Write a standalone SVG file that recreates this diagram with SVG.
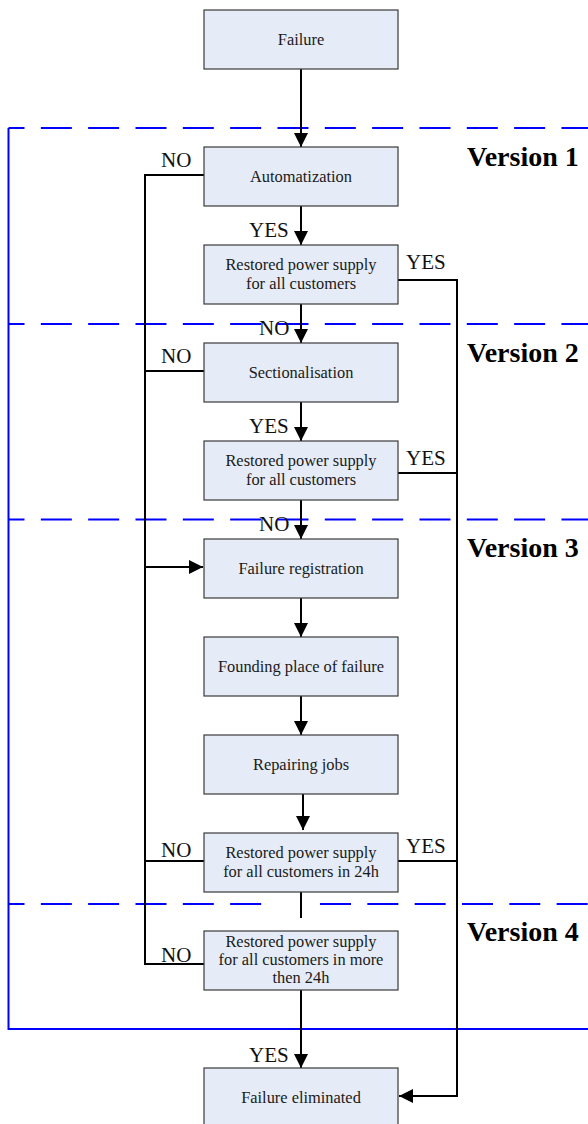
<svg xmlns="http://www.w3.org/2000/svg" width="588" height="1124" viewBox="0 0 588 1124">
  <style>
    .box { fill: #e6ecf7; stroke: #3a3a3a; stroke-width: 1.2; }
    .txt { font-family: "Liberation Serif", "Times New Roman", serif; font-size: 16.4px; fill: #1a1a1a; text-anchor: middle; }
    .lbl { font-family: "Liberation Serif", "Times New Roman", serif; font-size: 21px; fill: #111; }
    .ver { font-family: "Liberation Serif", "Times New Roman", serif; font-size: 28px; font-weight: bold; fill: #000; }
    .wire { fill: none; stroke: #000; stroke-width: 2; }
    .frame { fill: none; stroke: #0000ff; stroke-width: 2; }
    .dash { fill: none; stroke: #0000ff; stroke-width: 2; stroke-dasharray: 31 16.33; stroke-dashoffset: 15; }
  </style>
  <defs>
    <marker id="arrow" viewBox="0 0 14 14" refX="14" refY="7" markerWidth="14" markerHeight="14" markerUnits="userSpaceOnUse" orient="auto">
      <path d="M0,0 L14,7 L0,14 Z" fill="#000"/>
    </marker>
  </defs>

  <!-- version frame -->
  <g id="frame">
    <path class="frame" d="M8.5,128 V1029 H588"/>
    <path class="dash" d="M8.5,128 H588"/>
    <path class="dash" d="M8.5,324 H588"/>
    <path class="dash" d="M8.5,519.5 H588"/>
    <path class="dash" d="M8.5,904 H263"/>
    <path class="frame" d="M320,904 H588" style="stroke-dasharray:31 16.33"/>
    <text class="ver" x="467" y="166">Version 1</text>
    <text class="ver" x="467" y="362">Version 2</text>
    <text class="ver" x="467" y="557">Version 3</text>
    <text class="ver" x="467" y="941">Version 4</text>
  </g>

  <!-- connectors -->
  <g id="connectors">
    <path class="wire" d="M301,69 V147" marker-end="url(#arrow)"/>
    <path class="wire" d="M301,206 V245" marker-end="url(#arrow)"/>
    <path class="wire" d="M301,304 V343" marker-end="url(#arrow)"/>
    <path class="wire" d="M301,402 V441" marker-end="url(#arrow)"/>
    <path class="wire" d="M301,500 V539" marker-end="url(#arrow)"/>
    <path class="wire" d="M301,598 V637" marker-end="url(#arrow)"/>
    <path class="wire" d="M301,696 V735" marker-end="url(#arrow)"/>
    <path class="wire" d="M303,794 V830" marker-end="url(#arrow)"/>
    <path class="wire" d="M301,892 V918"/>
    <path class="wire" d="M301,990 V1068" marker-end="url(#arrow)"/>
    <!-- NO return line on the left -->
    <path class="wire" d="M204,175 H145 V964 H204"/>
    <path class="wire" d="M145,371 H204"/>
    <path class="wire" d="M145,861 H204"/>
    <path class="wire" d="M145,567 H203" marker-end="url(#arrow)"/>
    <!-- YES bypass line on the right -->
    <path class="wire" d="M398,280 H457 V1096 H399" marker-end="url(#arrow)"/>
    <path class="wire" d="M398,473 H457"/>
    <path class="wire" d="M398,861 H457"/>
    <!-- branch labels -->
    <text class="lbl" x="161" y="167">NO</text>
    <text class="lbl" x="249" y="237">YES</text>
    <text class="lbl" x="406" y="269">YES</text>
    <text class="lbl" x="259" y="335">NO</text>
    <text class="lbl" x="161" y="363">NO</text>
    <text class="lbl" x="249" y="433">YES</text>
    <text class="lbl" x="406" y="465">YES</text>
    <text class="lbl" x="259" y="531">NO</text>
    <text class="lbl" x="161" y="857">NO</text>
    <text class="lbl" x="406" y="853">YES</text>
    <text class="lbl" x="161" y="962">NO</text>
    <text class="lbl" x="249" y="1062">YES</text>
  </g>

  <g id="failure">
    <rect class="box" x="204" y="10" width="194" height="59"/>
    <text class="txt" x="301" y="45">Failure</text>
  </g>
  <g id="automatization">
    <rect class="box" x="204" y="147" width="194" height="59"/>
    <text class="txt" x="301" y="182">Automatization</text>
  </g>
  <g id="restored-1">
    <rect class="box" x="204" y="245" width="194" height="59"/>
    <text class="txt" x="301" y="270">Restored power supply</text>
    <text class="txt" x="301" y="289">for all customers</text>
  </g>
  <g id="sectionalisation">
    <rect class="box" x="204" y="343" width="194" height="59"/>
    <text class="txt" x="301" y="378">Sectionalisation</text>
  </g>
  <g id="restored-2">
    <rect class="box" x="204" y="441" width="194" height="59"/>
    <text class="txt" x="301" y="466">Restored power supply</text>
    <text class="txt" x="301" y="485">for all customers</text>
  </g>
  <g id="failure-registration">
    <rect class="box" x="204" y="539" width="194" height="59"/>
    <text class="txt" x="301" y="574">Failure registration</text>
  </g>
  <g id="founding-place">
    <rect class="box" x="204" y="637" width="194" height="59"/>
    <text class="txt" x="301" y="672">Founding place of failure</text>
  </g>
  <g id="repairing-jobs">
    <rect class="box" x="204" y="735" width="194" height="59"/>
    <text class="txt" x="301" y="770">Repairing jobs</text>
  </g>
  <g id="restored-24h">
    <rect class="box" x="204" y="833" width="194" height="59"/>
    <text class="txt" x="301" y="858">Restored power supply</text>
    <text class="txt" x="301" y="877">for all customers in 24h</text>
  </g>
  <g id="restored-more-24h">
    <rect class="box" x="204" y="931" width="194" height="59"/>
    <text class="txt" x="301" y="947">Restored power supply</text>
    <text class="txt" x="301" y="965">for all customers in more</text>
    <text class="txt" x="301" y="983">then 24h</text>
  </g>
  <g id="failure-eliminated">
    <rect class="box" x="204" y="1068" width="194" height="59"/>
    <text class="txt" x="301" y="1103">Failure eliminated</text>
  </g>
</svg>
